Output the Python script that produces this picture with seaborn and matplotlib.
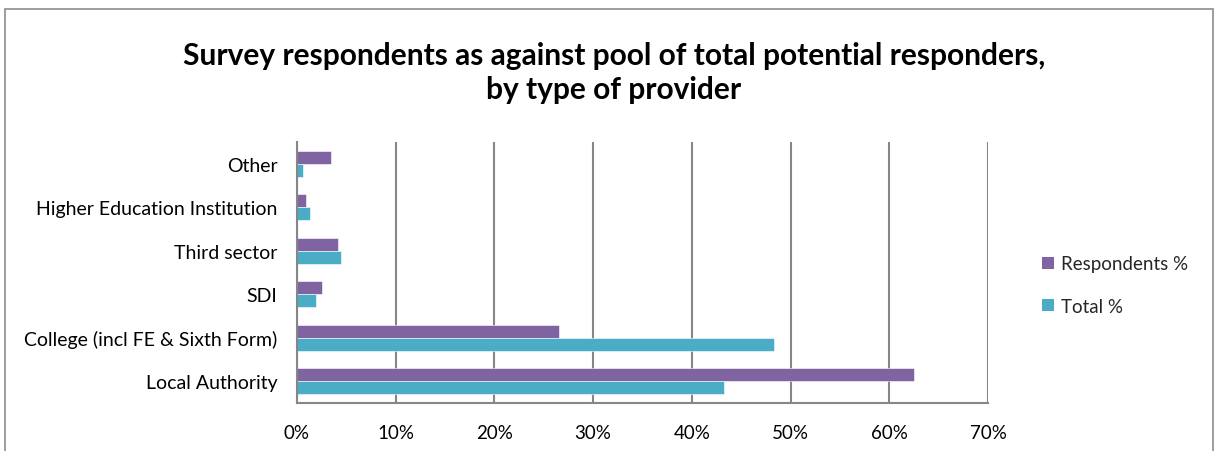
import matplotlib
matplotlib.use("Agg")
import matplotlib.pyplot as plt
import matplotlib.patches as mpatches
import seaborn as sns
import pandas as pd

# Provider types, top to bottom
categories = [
    "Other",
    "Higher Education Institution",
    "Third sector",
    "SDI",
    "College (incl FE & Sixth Form)",
    "Local Authority",
]
respondents_pct = [3.4, 0.9, 4.2, 2.5, 26.5, 62.5]
total_pct = [0.6, 1.3, 4.5, 1.9, 48.3, 43.3]
series_names = ["Respondents %", "Total %"]
x_ticks = [0, 10, 20, 30, 40, 50, 60, 70]
x_tick_labels = [f"{t}%" for t in x_ticks]

colors = ["#8064A2", "#4BACC6"]
grid_color = "#868686"

df = pd.DataFrame({
    "provider": categories * 2,
    "series": [series_names[0]] * len(categories) + [series_names[1]] * len(categories),
    "value": respondents_pct + total_pct,
})

sns.set_theme(style="white")
plt.rcParams["font.family"] = ["Lato", "DejaVu Sans"]

W, H = 1220, 452
fig = plt.figure(figsize=(W / 100, H / 100), dpi=100)
ax = fig.add_axes([297 / W, 1 - 404 / H, (988 - 297) / W, (404 - 143) / H])

sns.barplot(
    data=df, y="provider", x="value", hue="series",
    order=categories, hue_order=series_names, palette=colors,
    orient="h", width=0.6, saturation=1, legend=False, ax=ax,
    edgecolor="white", linewidth=0.4,
)

ax.set_xlim(0, 70)
ax.set_xticks(x_ticks)
ax.set_xticklabels(x_tick_labels, fontsize=13.5, color="black")
ax.tick_params(axis="x", direction="out", length=6, width=1.5, color=grid_color, pad=9)
ax.tick_params(axis="y", length=0, pad=14, labelsize=14, labelcolor="black")
ax.set_xlabel("")
ax.set_ylabel("")

ax.grid(axis="x", color=grid_color, linewidth=1.5)
ax.set_axisbelow(True)
for side in ["top", "right"]:
    ax.spines[side].set_visible(False)
for side in ["left", "bottom"]:
    ax.spines[side].set_color(grid_color)
    ax.spines[side].set_linewidth(1.5)

fig.text(0.503, 1 - 73 / H, "Survey respondents as against pool of total potential responders,\nby type of provider",
         ha="center", va="center", fontsize=21.5, fontweight="bold", linespacing=1.28,
         color="black")

# Chart frame
frame = mpatches.Rectangle((5 / W, -0.1), (1213 - 5) / W, 1.1 - 10 / H,
                           transform=fig.transFigure, fill=False,
                           edgecolor="#8C8C8C", linewidth=1.2)
fig.add_artist(frame)

handles = [mpatches.Patch(facecolor=c, edgecolor="none") for c in colors]
fig.legend(handles, series_names, loc="center left",
           bbox_to_anchor=(1025 / W, 1 - 286 / H), frameon=False,
           fontsize=13.5, handlelength=0.65, handleheight=0.65,
           handletextpad=0.35, labelspacing=1.35)

fig.savefig("out.png", dpi=100)
